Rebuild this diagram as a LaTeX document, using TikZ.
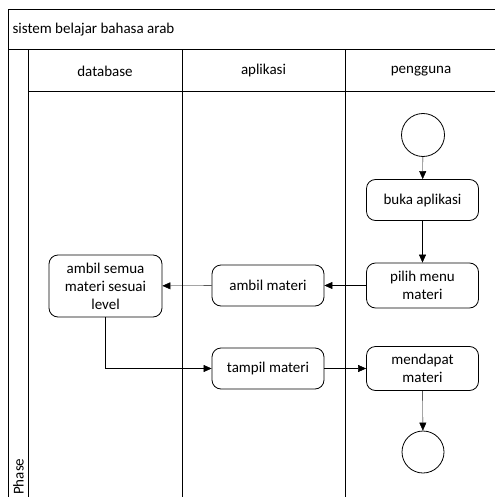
\documentclass[tikz,border=0pt]{standalone}
\usepackage{fontspec}
\setmainfont{Carlito}
\usetikzlibrary{arrows.meta,positioning}

\begin{document}
\begin{tikzpicture}[x=1pt,y=-1pt,>={Triangle[length=8pt,width=7pt]},
  every node/.style={font=\fontsize{15}{18}\selectfont},
  act/.style={draw,line width=0.8pt,rounded corners=9pt,minimum width=112pt,minimum height=41pt,align=center,inner sep=2pt},
  state/.style={draw,line width=0.8pt,circle,minimum size=43pt,inner sep=0pt},
  lane/.style={line width=1pt}]
  \useasboundingbox (0,0) rectangle (495,497);
  % pool and lanes
  \draw[lane] (8,497) -- (8,10) -- (495,10);
  \draw[lane] (8,50) -- (495,50);
  \draw[lane] (28,50) -- (28,497);
  \draw[lane] (28,92) -- (495,92);
  \draw[lane] (182,50) -- (182,497);
  \draw[lane] (345,50) -- (345,497);
  \node[anchor=west] (title) at (9,30) {sistem belajar bahasa arab};
  \node (hdb) at (105,71) {database};
  \node (happ) at (263.5,71) {aplikasi};
  \node (huser) at (421,71) {pengguna};
  \node[rotate=90,anchor=west,inner sep=1pt] (phase) at (18.5,496) {Phase};
  % activities
  \node[state] (start) at (423,135) {};
  \node[act] (buka) at (422.5,200) {buka aplikasi};
  \node[act,minimum height=45pt] (pilih) at (422.5,285.5) {pilih menu\\materi};
  \node[act] (ambil) at (268,285.5) {ambil materi};
  \node[act,minimum height=62pt,minimum width=113pt] (semua) at (105.5,286) {ambil semua\\materi sesuai\\level};
  \node[act] (tampil) at (268,368.5) {tampil materi};
  \node[act,minimum height=44pt] (dapat) at (422.5,368.5) {mendapat\\materi};
  \node[state,minimum size=42pt] (end) at (423,452) {};
  % flow
  \draw[->] (start) -- (buka);
  \draw[->] (buka) -- (pilih);
  \draw[->] (pilih) -- (ambil);
  \draw[->] (ambil) -- (semua);
  \draw[->] (semua.south) |- (tampil.west);
  \draw[->] (tampil) -- (dapat);
  \draw[->] (dapat) -- (end);
\end{tikzpicture}
\end{document}
